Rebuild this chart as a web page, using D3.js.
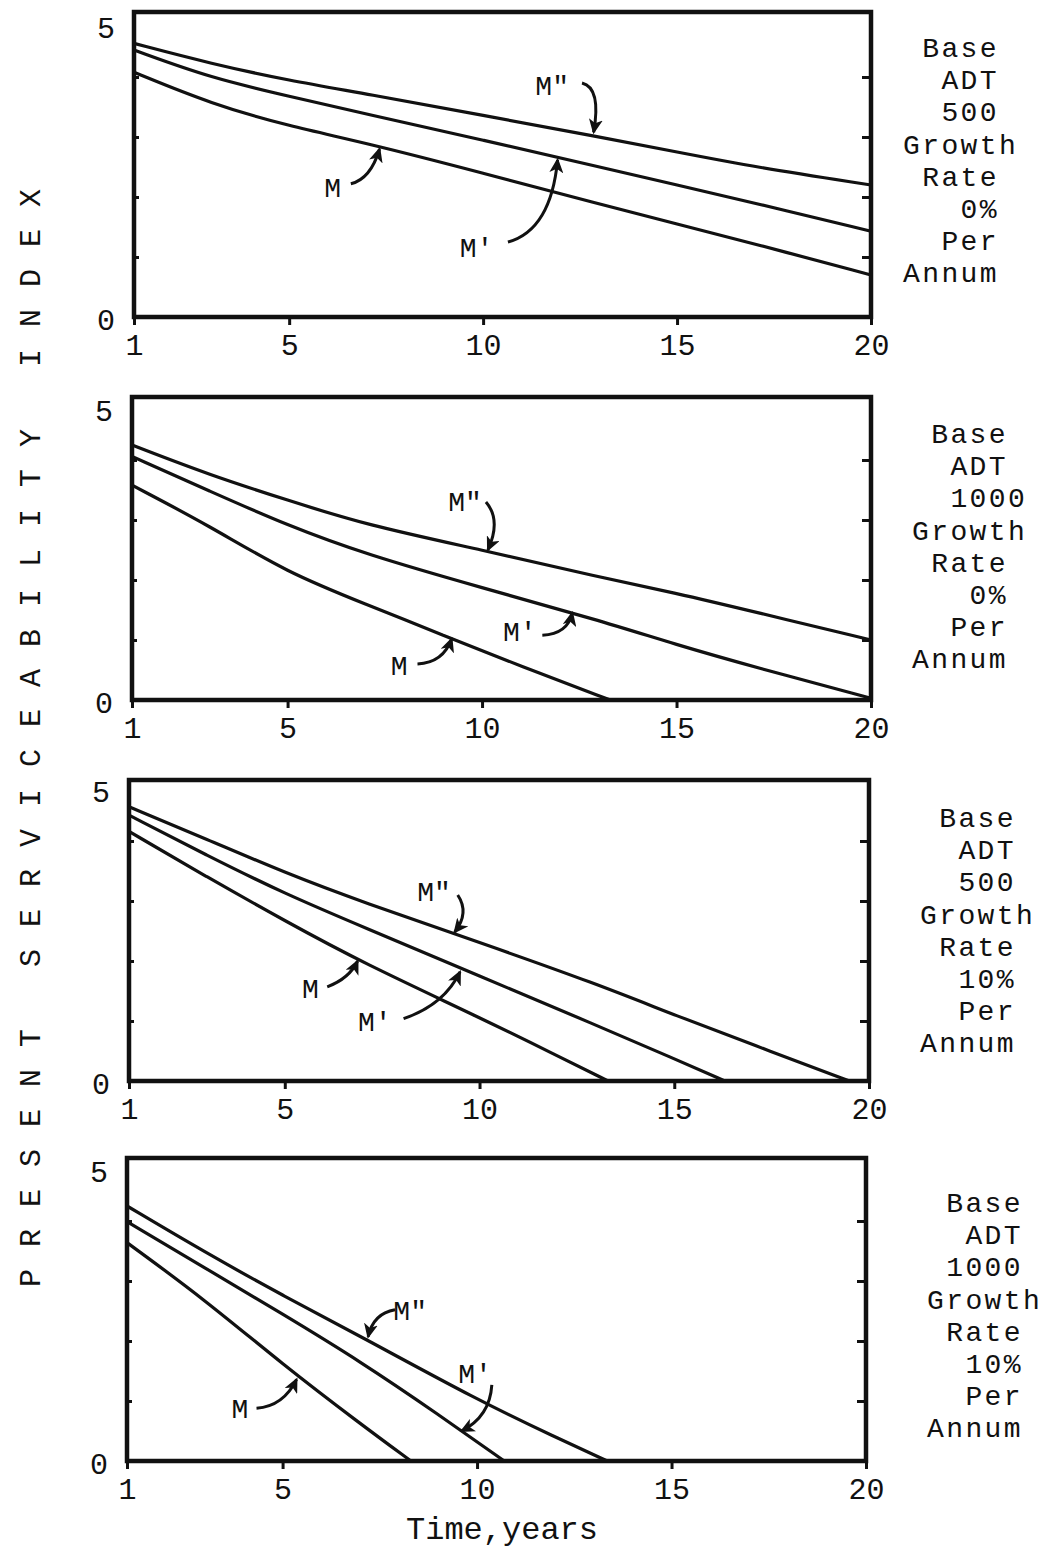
<!DOCTYPE html>
<html lang="en">
<head>
<meta charset="UTF-8">
<title>Present serviceability index vs time</title>
<script src="https://d3js.org/d3.v7.min.js"></script>
<style>
  body { margin: 0; background: #fff; }
  svg text { font-family: "Liberation Mono", "DejaVu Sans Mono", monospace; fill: #111; }
  .frame { fill: none; stroke: #111; stroke-width: 4.5; }
  .curve { fill: none; stroke: #111; stroke-width: 3.2; stroke-linejoin: round; stroke-linecap: round; }
  .arrow { fill: none; stroke: #111; stroke-width: 3; }
  .tick line { stroke: #111; stroke-width: 3; }
</style>
</head>
<body>
<script>
const width = 1047;
const height = 1549;

// axis ticks
const xTicks = [1, 5, 10, 15, 20];
const yLabels = [0, 5];
const innerTicks = [1, 2, 3, 4];

// typewritten captions on the right, one per panel (leading spaces kept)
const cap500g0   = [" Base", "  ADT", "  500", "Growth", " Rate", "   0%", "  Per", "Annum"];
const cap1000g0  = [" Base", "  ADT", "  1000", "Growth", " Rate", "   0%", "  Per", "Annum"];
const cap500g10  = [" Base", "  ADT", "  500", "Growth", " Rate", "  10%", "  Per", "Annum"];
const cap1000g10 = [" Base", "  ADT", " 1000", "Growth", " Rate", "  10%", "  Per", "Annum"];

// PSI curves, [year, psi]
const p1M  = [[1, 4.08], [3, 3.55], [5, 3.18], [7, 2.9], [10, 2.4], [13, 1.88], [15, 1.55], [17, 1.22], [20, 0.7]];
const p1M1 = [[1, 4.45], [3, 3.98], [5, 3.68], [7, 3.38], [10, 2.95], [13, 2.5], [15, 2.2], [17, 1.9], [20, 1.43]];
const p1M2 = [[1, 4.56], [3, 4.22], [5, 3.94], [7, 3.72], [10, 3.36], [13, 3.0], [15, 2.75], [17, 2.5], [20, 2.2]];

const p2M  = [[1, 3.58], [3, 2.9], [5, 2.12], [7, 1.6], [9, 1.08], [11, 0.56], [13.3, 0]];
const p2M1 = [[1, 4.06], [3, 3.48], [5, 2.91], [7, 2.43], [10, 1.87], [13, 1.33], [15, 0.92], [17, 0.55], [20, 0.03]];
const p2M2 = [[1, 4.25], [3, 3.75], [5, 3.33], [7, 2.92], [10, 2.5], [13, 2.05], [15, 1.78], [17, 1.47], [20, 1.0]];

const p3M  = [[1, 4.16], [3, 3.4], [5, 2.67], [7, 1.97], [10, 1.06], [12, 0.42], [13.3, 0]];
const p3M1 = [[1, 4.43], [3, 3.76], [5, 3.12], [7, 2.57], [10, 1.75], [13, 0.93], [15, 0.37], [16.3, 0]];
const p3M2 = [[1, 4.57], [3, 4.03], [5, 3.47], [7, 2.98], [10, 2.31], [13, 1.62], [15, 1.1], [17, 0.61], [19.5, 0]];

const p4M  = [[1, 3.64], [3, 2.69], [5, 1.61], [7, 0.62], [8.3, 0]];
const p4M1 = [[1, 3.99], [3, 3.22], [5, 2.45], [7, 1.66], [9, 0.78], [10.7, 0]];
const p4M2 = [[1, 4.25], [3, 3.48], [5, 2.76], [7, 2.08], [10, 1.02], [12, 0.4], [13.35, 0]];

// where each panel sits on the page
const layout = [
  {left: 134, right: 871, top: 12,   y5: 17,   y0: 317,  capX: 903, capY: 57},
  {left: 132, right: 871, top: 397,  y5: 400,  y0: 700,  capX: 912, capY: 443},
  {left: 129, right: 869, top: 780,  y5: 781,  y0: 1081, capX: 920, capY: 827},
  {left: 127, right: 866, top: 1158, y5: 1161, y0: 1461, capX: 927, capY: 1212}
];

const panels = [
  {series: [p1M, p1M1, p1M2], caption: cap500g0,
   notes: [
     {t: 'M"', l: [11.78, 3.86], s: [12.55, 3.9], c: [13.05, 3.82], e: [12.85, 3.08]},
     {t: "M",  l: [6.12, 2.17],  s: [6.59, 2.22], c: [7.1, 2.3],    e: [7.33, 2.8]},
     {t: "M'", l: [9.83, 1.17],  s: [10.64, 1.25], c: [11.75, 1.45], e: [11.92, 2.62]}
   ]},
  {series: [p2M, p2M1, p2M2], caption: cap1000g0,
   notes: [
     {t: 'M"', l: [9.56, 3.31],  s: [10.1, 3.3],  c: [10.5, 3.0],  e: [10.15, 2.5]},
     {t: "M'", l: [10.97, 1.14], s: [11.55, 1.08], c: [12.2, 1.1], e: [12.32, 1.45]},
     {t: "M",  l: [7.87, 0.58],  s: [8.34, 0.6],  c: [9.0, 0.62],  e: [9.22, 1.02]}
   ]},
  {series: [p3M, p3M1, p3M2], caption: cap500g10,
   notes: [
     {t: 'M"', l: [8.83, 3.16], s: [9.44, 3.1],  c: [9.75, 2.8],  e: [9.36, 2.48]},
     {t: "M",  l: [5.66, 1.55], s: [6.09, 1.57], c: [6.66, 1.71], e: [6.87, 2.0]},
     {t: "M'", l: [7.31, 0.99], s: [8.05, 1.04], c: [9.09, 1.27], e: [9.5, 1.82]}
   ]},
  {series: [p4M, p4M1, p4M2], caption: cap1000g10,
   notes: [
     {t: 'M"', l: [8.28, 2.52], s: [7.89, 2.52], c: [7.33, 2.46], e: [7.2, 2.07]},
     {t: "M'", l: [9.95, 1.46], s: [10.38, 1.27], c: [10.33, 0.74], e: [9.6, 0.5]},
     {t: "M",  l: [3.9, 0.88],  s: [4.33, 0.88], c: [5.02, 0.91], e: [5.36, 1.36]}
   ]}
];

const svg = d3.select("body").append("svg")
    .attr("width", width).attr("height", height);

svg.append("defs").append("marker")
    .attr("id", "head")
    .attr("markerUnits", "userSpaceOnUse")
    .attr("markerWidth", 16).attr("markerHeight", 14)
    .attr("refX", 13).attr("refY", 7)
    .attr("orient", "auto")
  .append("path")
    .attr("d", "M0,0 L15,7 L0,14 L4,7 z")
    .attr("fill", "#111");

const line = d3.line().curve(d3.curveBasis);

panels.forEach((p, i) => {
  const L = layout[i];
  const x = d3.scaleLinear().domain([1, 20]).range([L.left, L.right]);
  const y = d3.scaleLinear().domain([0, 5]).range([L.y0, L.y5]);
  const g = svg.append("g");

  // ticks
  g.append("g").attr("transform", `translate(0,${L.y0})`)
      .call(d3.axisBottom(x).tickValues(xTicks).tickSize(8).tickPadding(9))
      .call(a => a.select(".domain").remove())
      .selectAll("text").style("font-size", "30px").attr("fill", "#111");
  g.append("g").attr("transform", `translate(${L.right},0)`)
      .call(d3.axisLeft(y).tickValues(innerTicks).tickSize(9).tickFormat(""))
      .call(a => a.select(".domain").remove());
  g.append("g").attr("transform", `translate(${L.left},0)`)
      .call(d3.axisRight(y).tickValues(innerTicks).tickSize(5).tickFormat(""))
      .call(a => a.select(".domain").remove());

  g.selectAll("text.ylab").data(yLabels).join("text")
      .attr("class", "ylab")
      .attr("x", L.left - 28)
      .attr("y", d => y(d) + (d === 5 ? 21 : 13))
      .attr("text-anchor", "middle")
      .style("font-size", "30px")
      .text(d => d);

  // curves
  g.selectAll("path.curve").data(p.series).join("path")
      .attr("class", "curve")
      .attr("d", d => line(d.map(([a, b]) => [x(a), y(b)])));

  // frame
  g.append("rect").attr("class", "frame")
      .attr("x", L.left).attr("y", L.top)
      .attr("width", L.right - L.left).attr("height", L.y0 - L.top);

  // curve labels with arrows
  p.notes.forEach(n => {
    g.append("path").attr("class", "arrow")
        .attr("d", `M${x(n.s[0])},${y(n.s[1])} Q${x(n.c[0])},${y(n.c[1])} ${x(n.e[0])},${y(n.e[1])}`)
        .attr("marker-end", "url(#head)");
    g.append("text")
        .attr("x", x(n.l[0])).attr("y", y(n.l[1]))
        .attr("dy", "0.35em")
        .attr("text-anchor", "middle")
        .style("font-size", "28px")
        .text(n.t);
  });

  // caption: typewriter columns, 19.2px per character
  g.append("text")
      .attr("x", L.capX).attr("y", L.capY)
      .style("font-size", "28px")
      .style("letter-spacing", "2.4px")
      .style("white-space", "pre")
    .selectAll("tspan").data(p.caption).join("tspan")
      .attr("x", L.capX)
      .attr("dy", (d, j) => j === 0 ? 0 : 32.2)
      .text(d => d);
});

// shared axis titles
svg.append("text")
    .attr("transform", "translate(40,1287) rotate(-90)")
    .style("font-size", "30px")
    .style("letter-spacing", "22px")
    .style("white-space", "pre")
    .text("PRESENT SERVICEABILITY INDEX");

svg.append("text")
    .attr("x", 502).attr("y", 1539)
    .attr("text-anchor", "middle")
    .style("font-size", "32px")
    .text("Time,years");
</script>
</body>
</html>
